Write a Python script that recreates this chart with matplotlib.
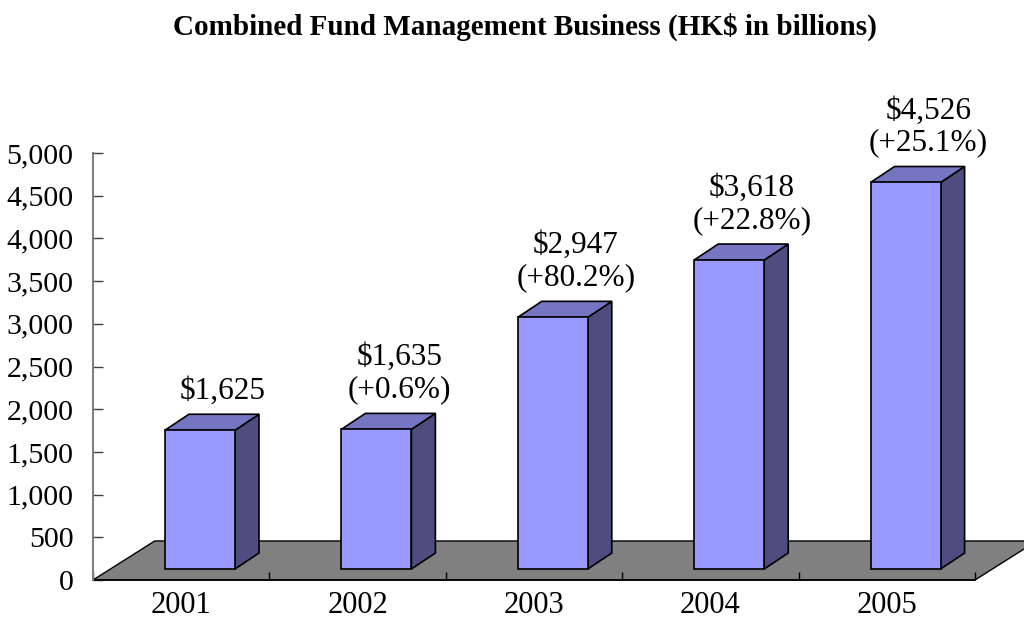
import matplotlib
matplotlib.use("Agg")
import matplotlib.pyplot as plt
from matplotlib.patches import Polygon

plt.rcParams["font.family"] = ["Liberation Serif", "DejaVu Serif"]

years = ["2001", "2002", "2003", "2004", "2005"]
values = [1625, 1635, 2947, 3618, 4526]
growth = [None, 0.6, 80.2, 22.8, 25.1]

FRONT = "#9999ff"
TOP = "#7575c2"
SIDE = "#4d4d80"
FLOOR = "#808080"

# fake 3d geometry, in data units (x: category, y: HK$ bn)
floor_dx, floor_dy = 0.35, 457
bar_left, bar_w = 0.408, 0.397
bar_base = 129
depth_dx, depth_dy = 0.136, 187

fig = plt.figure(figsize=(10.24, 6.21), dpi=100)
ax = fig.add_axes([93 / 1024, 41 / 621, 882 / 1024, 427 / 621])
ax.set_xlim(0, len(years))
ax.set_ylim(0, 5000)

# floor
floor = Polygon([(0, 0), (len(years), 0),
                 (len(years) + floor_dx, floor_dy), (floor_dx, floor_dy)],
                closed=True, fc=FLOOR, ec="black", lw=1, clip_on=False, zorder=1)
ax.add_patch(floor)

for i, v in enumerate(values):
    x0 = i + bar_left
    x1 = x0 + bar_w
    y0 = bar_base
    y1 = bar_base + v
    front = [(x0, y0), (x1, y0), (x1, y1), (x0, y1)]
    side = [(x1, y0), (x1 + depth_dx, y0 + depth_dy),
            (x1 + depth_dx, y1 + depth_dy), (x1, y1)]
    top = [(x0, y1), (x1, y1), (x1 + depth_dx, y1 + depth_dy),
           (x0 + depth_dx, y1 + depth_dy)]
    for pts, c in ((side, SIDE), (top, TOP), (front, FRONT)):
        ax.add_patch(Polygon(pts, closed=True, fc=c, ec="black", lw=1.2,
                             clip_on=False, zorder=3))

    label = "\\$" + f"{v:,}"
    if growth[i] is not None:
        label += f"\n(+{growth[i]:.1f}%)"
    ax.text(x0 + bar_w / 2 + 0.13, y1 + 290, label, ha="center", va="bottom",
            fontsize=22.5, linespacing=1.15, zorder=4)

ax.set_yticks(range(0, 5001, 500))
ax.set_yticklabels([f"{t:,}" for t in range(0, 5001, 500)])
ax.set_xticks([i + 0.5 for i in range(len(years))])
ax.set_xticklabels(years)
ax.set_xticks(range(len(years) + 1), minor=True)

ax.tick_params(axis="y", direction="in", length=7, width=1, labelsize=21.5,
               pad=14, color="#404040")
ax.tick_params(axis="x", which="major", length=0, labelsize=22, pad=8)
ax.tick_params(axis="x", which="minor", direction="in", length=6, width=1)

for s in ("top", "right"):
    ax.spines[s].set_visible(False)
ax.spines["left"].set_color("#808080")
ax.spines["left"].set_linewidth(1.5)
ax.spines["bottom"].set_linewidth(1.2)
ax.spines["bottom"].set_zorder(2)
ax.patch.set_visible(False)

fig.text(525 / 1024, 1 - 27 / 621, "Combined Fund Management Business (HK\\$ in billions)",
         ha="center", va="center", fontsize=21, fontweight="bold")

fig.savefig("out.png", dpi=100)
